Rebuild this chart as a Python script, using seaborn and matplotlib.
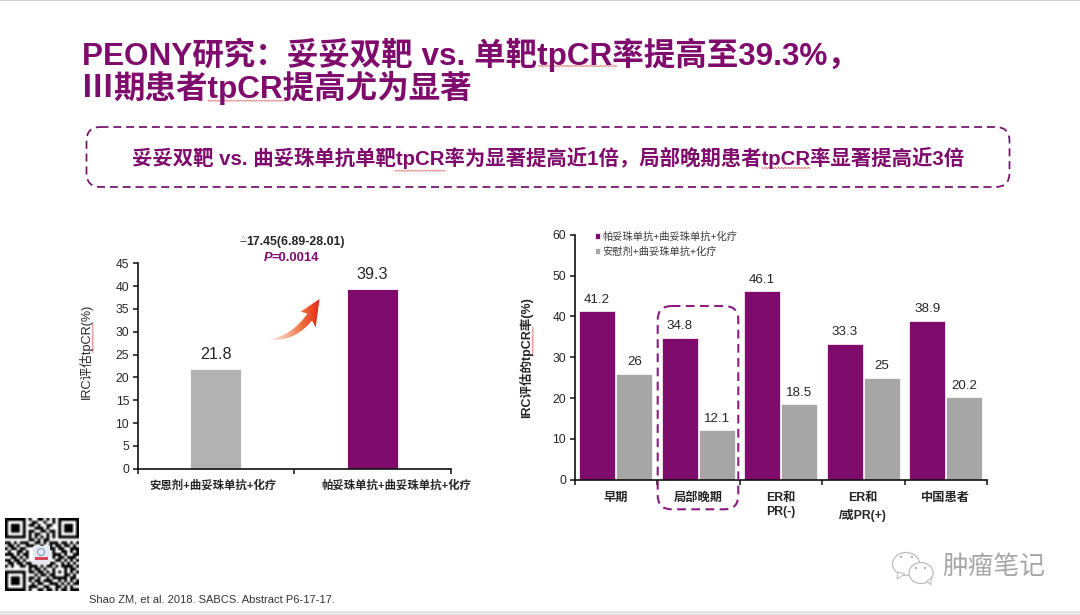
import numpy as np
import pandas as pd
import matplotlib
matplotlib.use("Agg")
import matplotlib.pyplot as plt
from matplotlib.patches import FancyBboxPatch, PathPatch, Ellipse, Polygon, Rectangle
from matplotlib.path import Path
from matplotlib.colors import LinearSegmentedColormap
from matplotlib.transforms import ScaledTranslation
import seaborn as sns

# ---------- data ----------
left_groups = ["安恩剂+曲妥珠单抗+化疗", "帕妥珠单抗+曲妥珠单抗+化疗"]
left_values = [21.8, 39.3]
right_categories = ["早期", "局部晚期", "ER和\nPR(-)", "ER和\n/或PR(+)", "中国患者"]
series_a_name = "帕妥珠单抗+曲妥珠单抗+化疗"
series_b_name = "安慰剂+曲妥珠单抗+化疗"
series_a = [41.2, 34.8, 46.1, 33.3, 38.9]
series_b = [26, 12.1, 18.5, 25, 20.2]

PURPLE = "#7F0B6C"
GRAY_L = "#B2B2B2"
GRAY_R = "#A6A6A6"
INK = "#262626"

sns.set_theme(style="white")
FONT = ["Liberation Sans", "Noto Sans CJK SC", "DejaVu Sans"]
plt.rcParams["font.family"] = FONT
plt.rcParams["axes.unicode_minus"] = False

W, H = 1080, 615
fig = plt.figure(figsize=(W / 100, H / 100), dpi=100, facecolor="white")


def axes_px(l, t, r, b):
    return fig.add_axes([l / W, 1 - b / H, (r - l) / W, (b - t) / H])


def style_axis(ax, n, ymax, step):
    ax.set_xlim(-0.5, n - 0.5)
    ax.set_ylim(0, ymax)
    ax.set_yticks(np.arange(0, ymax + 1, step))
    ax.set_xticks(np.arange(n))
    ax.set_xticks(np.arange(-0.5, n), minor=True)
    sns.despine(ax=ax)
    for s in ("left", "bottom"):
        ax.spines[s].set_color("#111111")
        ax.spines[s].set_linewidth(1.2)
    ax.tick_params(axis="y", which="major", left=True, length=3.5, width=1.1,
                   color="#111111", labelsize=8.7, labelcolor=INK, pad=2.5)
    ax.tick_params(axis="x", which="major", bottom=False)
    ax.tick_params(axis="x", which="minor", bottom=True, length=3.5, width=1.1,
                   color="#111111")
    ax.set_xlabel("")
    ax.set_ylabel("")
    ax.patch.set_alpha(0)


# ---------- left chart ----------
axL = axes_px(137.5, 263.3, 451, 468.7)
dfL = pd.DataFrame({"group": left_groups, "value": left_values})
sns.barplot(data=dfL, x="group", y="value", hue="group", order=left_groups,
            palette=[GRAY_L, PURPLE], width=0.325, legend=False, ax=axL,
            saturation=1, edgecolor="white", linewidth=0.6)
style_axis(axL, 2, 45, 5)
axL.tick_params(axis="x", which="major", labelsize=8.2, labelcolor=INK, pad=2)
for t, dx in zip(axL.get_xticklabels(), (-3, 24)):
    t.set_fontweight("bold")
    t.set_transform(t.get_transform() + ScaledTranslation(dx / 100, 0, fig.dpi_scale_trans))
for c in axL.containers:
    axL.bar_label(c, fmt="%g", padding=5, fontsize=11.6, color=INK)

# ---------- right chart ----------
axR = axes_px(574.5, 234.7, 987, 479.7)
dfR = pd.DataFrame({
    "category": right_categories * 2,
    "series": [series_a_name] * 5 + [series_b_name] * 5,
    "value": series_a + series_b,
})
sns.barplot(data=dfR, x="category", y="value", hue="series", order=right_categories,
            hue_order=[series_a_name, series_b_name], palette=[PURPLE, GRAY_R],
            width=0.9, gap=0.04, ax=axR, saturation=1, edgecolor="white", linewidth=0.5)
style_axis(axR, 5, 60, 10)
axR.tick_params(axis="x", which="major", labelsize=8.8, labelcolor=INK, pad=2.5)
for i, t in enumerate(axR.get_xticklabels()):
    t.set_fontweight("bold")
    t.set_linespacing(1.55 if i == 3 else 1.3)
for c in axR.containers:
    axR.bar_label(c, fmt="%g", padding=4, fontsize=9.6, color=INK)
leg = axR.legend(loc="upper left", bbox_to_anchor=(0.05, 1.012), frameon=False,
                 fontsize=7.4, handlelength=0.5, handleheight=0.5, handletextpad=0.18,
                 labelspacing=0.42, borderpad=0, borderaxespad=0, title=None)
for t in leg.get_texts():
    t.set_color("#3A3A3A")

# ---------- overlay in slide pixels ----------
ov = fig.add_axes([0, 0, 1, 1], zorder=10)
ov.patch.set_alpha(0)
ov.axis("off")


def txt(x, y, s, size, color=INK, weight="normal", ha="left", va="center", family=FONT, **kw):
    return ov.text(x, y, s, fontsize=size, color=color, fontweight=weight, ha=ha, va=va,
                   family=family, **kw)


def squiggle(x0, y0, x1, y1):
    n = max(int(max(abs(x1 - x0), abs(y1 - y0)) / 1.6), 2)
    t = np.linspace(0, 1, n)
    o = np.where(np.arange(n) % 2 == 0, -0.7, 0.7)
    if abs(x1 - x0) >= abs(y1 - y0):
        ov.plot(x0 + (x1 - x0) * t, y0 + o, color="#EE6A6A", lw=0.55)
    else:
        ov.plot(x0 + o, y0 + (y1 - y0) * t, color="#EE6A6A", lw=0.55)


# page frame
ov.add_patch(Rectangle((0, 0), W, 1.2, fc="#CDCDCD", ec="none"))
ov.add_patch(Rectangle((0, 611), W, 4, fc="#E6E6E6", ec="none"))

# title
txt(82, 55, "PEONY研究：妥妥双靶 vs. 单靶tpCR率提高至39.3%，", 22.7, PURPLE, "bold")
txt(82, 88, "Ⅲ", 22.7, PURPLE, "bold", family=["Noto Sans CJK SC", "DejaVu Sans"])
txt(113, 88, "期患者tpCR提高尤为显著", 22.7, PURPLE, "bold")
squiggle(538, 66, 617, 66)
squiggle(208, 100.7, 285, 100.7)

# subtitle box
ov.add_patch(FancyBboxPatch((86.5 + 14, 127 + 14), 923 - 28, 60 - 28,
                            boxstyle="round,pad=14,rounding_size=14", fc="none", ec="#74106A",
                            lw=1.25, ls=(0, (4.6, 2.8)), mutation_aspect=1))
txt(548, 158, "妥妥双靶 vs. 曲妥珠单抗单靶tpCR率为显著提高近1倍，局部晚期患者tpCR率显著提高近3倍",
    14.7, PURPLE, "bold", ha="center")
squiggle(395, 170.7, 445, 170.7)
squiggle(762, 168, 810, 168)

# y axis titles
txt(85.5, 351, "IRC评估tpCR(%)", 9.1, INK, "normal", ha="center", rotation=90)
txt(526, 358, "IRC评估的tpCR率(%)", 9, INK, "bold", ha="center", rotation=90)
squiggle(92.7, 323, 92.7, 353)
squiggle(532.7, 327, 532.7, 356)

# left annotations
txt(240, 240.5, "△", 5, INK)
txt(246.5, 241.7, "17.45(6.89-28.01)", 8.9, INK, "bold")
txt(263.3, 258, "P", 9.3, PURPLE, "bold", style="italic")
txt(271.5, 258, "=0.0014", 9.4, PURPLE, "bold")

# arrow with gradient
verts = [(269, 339.5), (285, 337), (298, 327), (307.5, 313.5), (300.7, 311.7), (319.5, 299),
         (315.7, 327.7), (312, 320.5), (302, 333), (287, 342), (269, 339.5)]
codes = [Path.MOVETO, Path.CURVE4, Path.CURVE4, Path.CURVE4, Path.LINETO, Path.LINETO,
         Path.LINETO, Path.LINETO, Path.CURVE4, Path.CURVE4, Path.CURVE4]
cm = LinearSegmentedColormap.from_list("arrow", ["#FDEDE5", "#F6B79B", "#EE6B3A", "#E5271A"])
grad = np.linspace(0, 1, 120).reshape(1, -1)
im = ov.imshow(grad, cmap=cm, extent=(269, 320, 342, 298), aspect="auto", zorder=3)
clip = PathPatch(Path(verts, codes), fc="none", ec="none", transform=ov.transData)
ov.add_patch(clip)
im.set_clip_path(clip)

# dashed highlight on the 局部晚期 group
ov.add_patch(FancyBboxPatch((657.7 + 14, 306 + 14), 80.6 - 28, 203.3 - 28,
                            boxstyle="round,pad=14,rounding_size=14", fc="none", ec="#8E1B80",
                            lw=1.5, ls=(0, (4.2, 2.6))))

# citation
txt(89, 600, "Shao ZM, et al. 2018. SABCS. Abstract P6-17-17.", 8.05, "#333333")

# QR code (decorative)
qr_rows = [
    "1111111010011010101111111",
    "1000001001100100101000001",
    "1011101011010011001011101",
    "1011101000111010001011101",
    "1011101011001101101011101",
    "1000001010110010101000001",
    "1111111010101010101111111",
    "0000000011010110000000000",
    "1101011100110101110110101",
    "0110100111001001011011010",
    "1011011000000001101100111",
    "0100110100000000100110101",
    "1110101100000000111010011",
    "0011010100000000101101110",
    "1101101000000000011010101",
    "0110110110000001100101010",
    "1010011011101011010111101",
    "0000000010110100100010110",
    "1111111011011010101010101",
    "1000001000101101100011010",
    "1011101011010010111110110",
    "1011101010110111001010101",
    "1011101001011001110101011",
    "1000001011100110011010100",
    "1111111010011011010110111",
]
qr = np.array([[1 - int(c) for c in r] for r in qr_rows], dtype=float)
ov.imshow(qr, cmap="gray", vmin=0, vmax=1, extent=(5, 79, 591, 518), aspect="auto",
          interpolation="bilinear", zorder=2)
ov.add_patch(Rectangle((33, 546), 17, 18, fc="#E4E9F0", ec="none", zorder=3))
ov.add_patch(Ellipse((41, 552), 7, 7, fc="none", ec="#7E9BC4", lw=0.8, zorder=4))
ov.add_patch(Rectangle((35, 557), 13, 3, fc="#D8485A", ec="none", zorder=4))

# watermark
for (cx, cy, w, h, tail) in [(906, 564, 27, 23, [(898, 572), (897, 579), (905, 574)]),
                             (921, 573, 24, 21, [(927, 581), (931, 585), (931, 578)])]:
    ov.add_patch(Ellipse((cx, cy), w, h, fc="white", ec="#BBBBBB", lw=0.9, zorder=3))
    ov.add_patch(Polygon(tail, closed=True, fc="white", ec="#BBBBBB", lw=0.7, zorder=3))
for (x, y) in [(901, 557), (912, 557), (916, 568), (925, 568)]:
    ov.add_patch(Ellipse((x, y), 2.2, 2.2, fc="#AAAAAA", ec="none", zorder=4))
txt(942, 567, "肿瘤笔记", 18.5, "#A6A6A6")

ov.set_xlim(0, W)
ov.set_ylim(H, 0)

fig.savefig("out.png", dpi=100, facecolor="white")
